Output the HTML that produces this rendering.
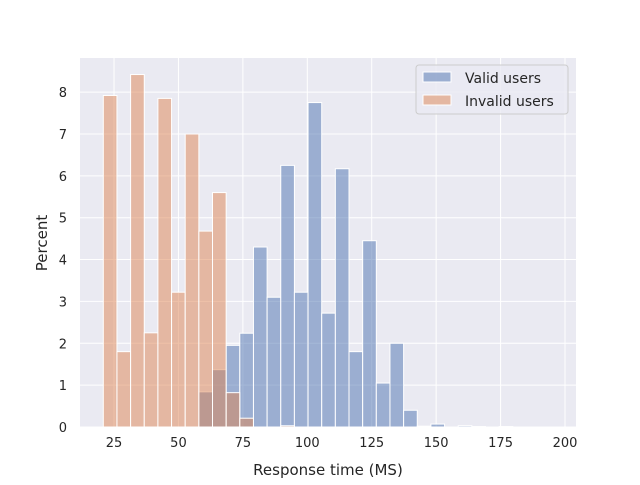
<!DOCTYPE html>
<html><head><meta charset="utf-8"><style>
body{margin:0;background:#fff}
svg text{font-family:"DejaVu Sans","Liberation Sans",sans-serif;fill:#262626}
</style></head><body>
<svg id="chart" width="640" height="480">
<rect x="80" y="58" width="496" height="369" fill="#eaeaf2"/>
<g id="grid"></g><g id="bars"></g><g id="ticks"></g>
<text x="328" y="475" text-anchor="middle" font-size="15">Response time (MS)</text>
<text transform="translate(47,243) rotate(-90)" text-anchor="middle" font-size="15">Percent</text>
<g>
<rect x="416" y="65" width="152" height="49" rx="3" fill="#eaeaf2" stroke="#ccc" fill-opacity="0.8"/>
<g><rect x="423" y="72" width="28" height="10" fill="#4c72b0" fill-opacity="0.5" stroke="#fff"/><text x="465" y="83" font-size="14">Valid users</text></g>
<g><rect x="423" y="95" width="28" height="10" fill="#dd8452" fill-opacity="0.5" stroke="#fff"/><text x="465" y="106" font-size="14">Invalid users</text></g>
</g>
</svg>
<script>
const binStart = 20.84;
const binWidth = 5.297;
const validValues = [0,0,0,0,0,0,0,0.84,1.37,1.95,2.24,4.3,3.1,6.25,3.22,7.75,2.72,6.17,1.8,4.45,1.05,2.0,0.4,0.02,0.07,0,0.03,0.01,0,0.01,0,0,0,0];
const invalidValues = [7.92,1.8,8.42,2.25,7.85,3.22,7.0,4.68,5.6,0.82,0.21,0,0,0.03,0,0,0,0,0,0,0,0,0,0,0,0,0,0,0,0,0,0,0,0];
const xTicks = [25,50,75,100,125,150,175,200];
const yTicks = [0,1,2,3,4,5,6,7,8];
const NS="http://www.w3.org/2000/svg";
const xs=v=>49.6+2.577*v, ys=v=>427-41.86*v;
const grid=document.getElementById('grid'),bars=document.getElementById('bars'),ticks=document.getElementById('ticks');
function mk(tag,attrs,parent){const e=document.createElementNS(NS,tag);for(const k in attrs)e.setAttribute(k,attrs[k]);parent.appendChild(e);return e;}
xTicks.forEach(t=>{
 const l=mk('line',{x1:xs(t),x2:xs(t),y1:58,y2:427,stroke:'#fff','stroke-width':1},grid);
 
 
 const tx=mk('text',{x:xs(t),y:447,'text-anchor':'middle','font-size':13},ticks);tx.textContent=t;
 
 
});
yTicks.forEach(t=>{
 const l=mk('line',{x1:80,x2:576,y1:ys(t),y2:ys(t),stroke:'#fff','stroke-width':1},grid);
 
 
 const tx=mk('text',{x:67,y:ys(t)+5,'text-anchor':'end','font-size':13},ticks);tx.textContent=t;
 
 
});
function series(vals,color,name){
 vals.forEach((v,i)=>{ if(v<=0)return;
  const x0=xs(binStart+i*binWidth),x1=xs(binStart+(i+1)*binWidth);
  const r=mk('rect',{x:x0,y:ys(v),width:x1-x0,height:427-ys(v),fill:color,'fill-opacity':0.5,stroke:'#fff','stroke-width':1},bars);
  
  
 });
}
series(validValues,'#4c72b0','bar-valid');
series(invalidValues,'#dd8452','bar-invalid');
</script>
</body></html>
